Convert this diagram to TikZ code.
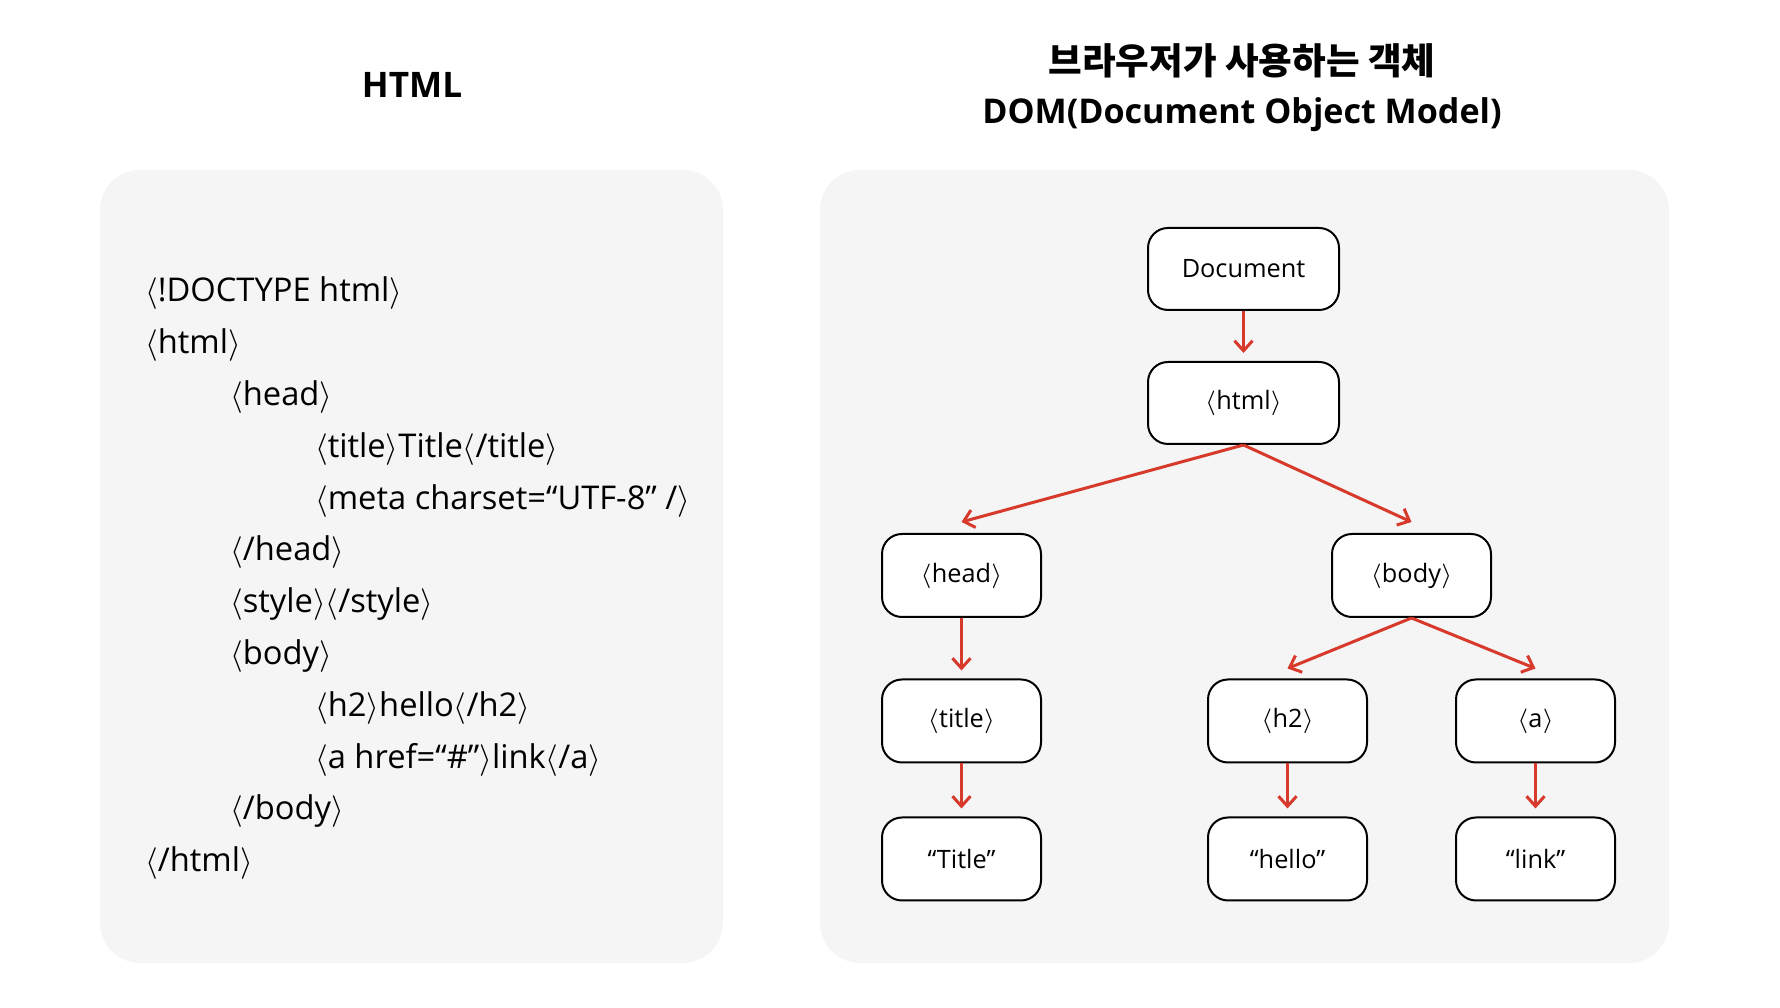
\documentclass[tikz,border=0pt]{standalone}
\usepackage{fontspec}
\setmainfont{Open Sans}
\newfontfamily\krfont{Noto Sans CJK KR}
\usetikzlibrary{arrows.meta}
\definecolor{f5f5f5}{HTML}{F5F5F5}
\definecolor{d7392b}{HTML}{D7392B}
\newcommand*{\tagl}{\ensuremath{\langle}}
\newcommand*{\tagr}{\ensuremath{\rangle}}
\begin{document}
\begin{tikzpicture}[>={Straight Barb[length=1mm,width=1.8mm]},
    box/.style={draw,fill=white,rounded corners=2mm,line width=.2mm,minimum width=1.59cm,minimum height=.83cm,font=\fontsize{7.2}{9}\selectfont},
    link/.style={->,d7392b,line width=.3mm,shorten >=.08cm}]
    \useasboundingbox(0,0)rectangle(17.8,10.08);
    \fill[f5f5f5,rounded corners=4mm](1,.45)rectangle(7.23,8.38);
    \fill[f5f5f5,rounded corners=4mm](8.2,.45)rectangle(16.69,8.38);
    \node[font=\fontsize{10}{12}\selectfont\bfseries](H)at(4.12,9.23){HTML};
    \node[font=\fontsize{10.4}{12}\selectfont\bfseries\krfont](K)at(12.42,9.47){브라우저가 사용하는 객체};
    \node[font=\fontsize{9.7}{12}\selectfont\bfseries](M)at(12.42,8.935){DOM(Document Object Model)};
    \foreach \l/\t[count=\i] in {0/{\tagl!DOCTYPE html\tagr},0/{\tagl html\tagr},1/{\tagl head\tagr},
        2/{\tagl title\tagr Title\tagl/title\tagr},2/{\tagl meta charset=“UTF-8” /\tagr},1/{\tagl/head\tagr},
        1/{\tagl style\tagr\tagl/style\tagr},1/{\tagl body\tagr},2/{\tagl h2\tagr hello\tagl/h2\tagr},
        2/{\tagl a href=“\#”\tagr link\tagl/a\tagr},1/{\tagl/body\tagr},0/{\tagl/html\tagr}}
        \node[anchor=base west,inner sep=0,font=\fontsize{9.3}{11}\selectfont](code\i)at({1.445+.85*\l},{7.06-.518*(\i-1)}){\t};
    \node[box,minimum width=1.91cm,minimum height=.82cm](doc)at(12.435,7.39){Document};
    \node[box,minimum width=1.91cm,minimum height=.82cm](html)at(12.435,6.05){\tagl html\tagr};
    \node[box](head)at(9.615,4.325){\tagl head\tagr};
    \node[box](body)at(14.115,4.325){\tagl body\tagr};
    \node[box](title)at(9.615,2.87){\tagl title\tagr};
    \node[box](h2)at(12.875,2.87){\tagl h2\tagr};
    \node[box](a)at(15.355,2.87){\tagl a\tagr};
    \node[box](Title)at(9.615,1.49){“Title”};
    \node[box](hello)at(12.875,1.49){“hello”};
    \node[box](lnk)at(15.355,1.49){“link”};
    \draw[link](doc)--(html);
    \draw[link,shorten >=0](html.south)--([yshift=1.1mm]head.north);
    \draw[link,shorten >=0](html.south)--([yshift=1.1mm]body.north);
    \draw[link](head)--(title);
    \draw[link](title)--(Title);
    \draw[link,shorten >=0](body.south)--([yshift=1mm]h2.north);
    \draw[link,shorten >=0](body.south)--([yshift=1mm]a.north);
    \draw[link](h2)--(hello);
    \draw[link](a)--(lnk);
\end{tikzpicture}
\end{document}
